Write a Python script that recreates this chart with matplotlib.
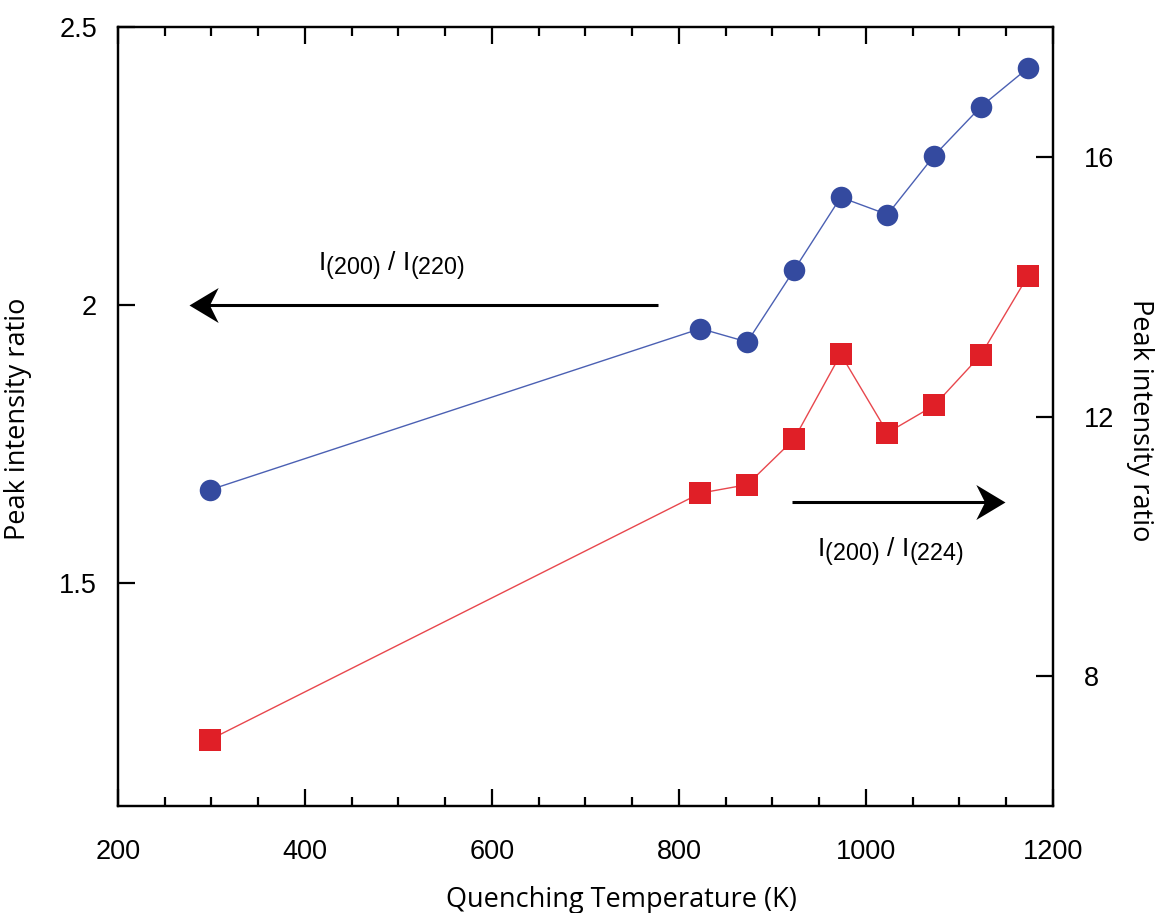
import numpy as np
import matplotlib
matplotlib.use('Agg')
import matplotlib.pyplot as plt
import matplotlib._mathtext as mathtext_internals
from matplotlib.path import Path
from matplotlib.ticker import MultipleLocator, FormatStrFormatter

plt.rcParams['font.family'] = 'Liberation Sans'
# the subscripts in the reference are only a little smaller than the main text
mathtext_internals.SHRINK_FACTOR = 0.88

# Quenching temperature (K) and peak intensity ratios
temps = [298, 823, 873, 923, 973, 1023, 1073, 1123, 1173]
ratio_220 = [1.668, 1.958, 1.934, 2.063, 2.194, 2.163, 2.269, 2.357, 2.426]
ratio_224 = [7.02, 10.82, 10.95, 11.65, 12.96, 11.75, 12.17, 12.95, 14.16]

left_ticks = [1.5, 2.0, 2.5]
right_ticks = [8, 12, 16]

blue = '#344a9f'
blue_line = '#4b60b3'
red = '#e01f27'
red_line = '#e8474d'

fig = plt.figure(figsize=(11.58, 9.13), dpi=100)
ax = fig.add_axes([0.1019, 0.1172, 0.8074, 0.8532])
ax2 = ax.twinx()

ax.plot(temps, ratio_220, '-', color=blue_line, lw=1.0, zorder=2)
ax.plot(temps, ratio_220, 'o', color=blue, ms=15.5, mew=0, zorder=3)
ax2.plot(temps, ratio_224, '-', color=red_line, lw=1.0, zorder=2)
ax2.plot(temps, ratio_224, 's', color=red, ms=15.5, mew=0, zorder=3)

ax.set_xlim(200, 1200)
ax.set_ylim(1.1, 2.5)
ax2.set_ylim(6, 18)

ax.xaxis.set_major_locator(MultipleLocator(200))
ax.xaxis.set_minor_locator(MultipleLocator(50))
ax.set_yticks(left_ticks)
ax.yaxis.set_major_formatter(FormatStrFormatter('%g'))
ax2.set_yticks(right_ticks)

for a in (ax, ax2):
    for s in a.spines.values():
        s.set_linewidth(1.6)
ax.tick_params(axis='x', which='major', direction='in', length=12, width=1.6,
               top=True, labelsize=19.5, pad=24)
ax.tick_params(axis='x', which='minor', direction='in', length=6.5, width=1.6, top=True)
ax.tick_params(axis='y', which='major', direction='in', length=12, width=1.6,
               right=False, labelsize=19.5, pad=15)
ax2.tick_params(axis='y', which='major', direction='in', length=12, width=1.6,
                labelsize=19.5, pad=22)

# arrow heads with swept-back barbs
head_r = Path([(0, 0), (-1, 0.6), (-0.7, 0), (-1, -0.6), (0, 0)],
              [Path.MOVETO, Path.LINETO, Path.LINETO, Path.LINETO, Path.CLOSEPOLY])
head_l = Path([(0, 0), (1, 0.6), (0.7, 0), (1, -0.6), (0, 0)],
              [Path.MOVETO, Path.LINETO, Path.LINETO, Path.LINETO, Path.CLOSEPOLY])

ax.plot([778, 290], [2.0, 2.0], '-', color='black', lw=2.2, solid_capstyle='butt')
ax.plot([276], [2.0], marker=head_l, ms=42, color='black', mew=0)
ax2.plot([921, 1135], [10.69, 10.69], '-', color='black', lw=2.2, solid_capstyle='butt')
ax2.plot([1149], [10.69], marker=head_r, ms=42, color='black', mew=0)

ax.text(414, 2.061, r'I$_{\mathregular{(200)}}$ / I$_{\mathregular{(220)}}$',
        fontsize=19, va='baseline', ha='left')
ax2.text(948, 9.83, r'I$_{\mathregular{(200)}}$ / I$_{\mathregular{(224)}}$',
         fontsize=19, va='baseline', ha='left')

fig.text(0.0155, 0.541, 'Peak intensity ratio', rotation=90, ha='center', va='center',
         fontsize=19.5, family='Open Sans')
fig.text(0.9845, 0.540, 'Peak intensity ratio', rotation=270, ha='center', va='center',
         fontsize=19.5, family='Open Sans')
fig.text(0.537, 0.014, 'Quenching Temperature (K)', ha='center', va='center',
         fontsize=19.5, family='Open Sans')

fig.savefig('out.png', dpi=100)
